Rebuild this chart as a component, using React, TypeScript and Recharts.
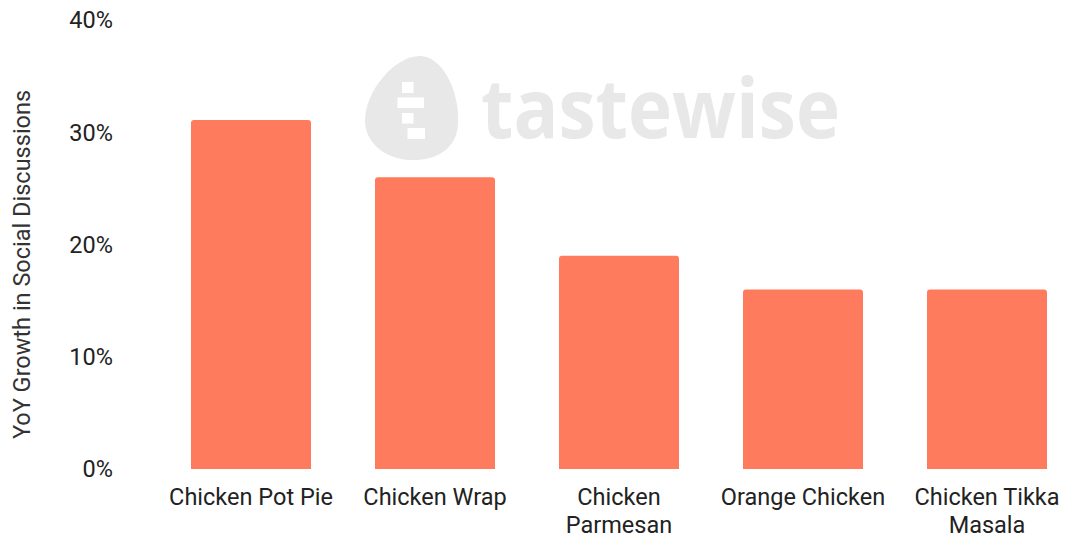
import React from 'react';
import { BarChart, Bar, XAxis, YAxis } from 'recharts';

const categories = ['Chicken Pot Pie', 'Chicken Wrap', 'Chicken Parmesan', 'Orange Chicken', 'Chicken Tikka Masala'];
const growth = [31.1, 26, 19, 16, 16];
const tickLines = [['Chicken Pot Pie'], ['Chicken Wrap'], ['Chicken', 'Parmesan'], ['Orange Chicken'], ['Chicken Tikka', 'Masala']];
const yTicks = [0, 10, 20, 30, 40];

const data = categories.map((name, i) => ({ name, value: growth[i] }));

const FONT = 'Roboto, sans-serif';
const FS = 23.5;

const CategoryTick = (props: any) => {
  const { x, y, index } = props;
  const lines = tickLines[index] || [props.payload.value];
  return (
    <text x={x} y={y} textAnchor="middle" fill="#222" fontSize={FS} fontFamily={FONT}>
      {lines.map((l: string, i: number) => (
        <tspan key={i} x={x} dy={i === 0 ? 29.5 : 28}>
          {l}
        </tspan>
      ))}
    </text>
  );
};

const YLabel = (props: any) => {
  const vb = props.viewBox || {};
  const cy = vb.y + vb.height / 2 + 20;
  return (
    <text
      x={22}
      y={cy}
      transform={`rotate(-90, 22, ${cy})`}
      textAnchor="middle"
      dominantBaseline="central"
      fill="#333"
      fontSize={FS}
      fontFamily={FONT}
    >
      YoY Growth in Social Discussions
    </text>
  );
};

const Watermark = () => (
  <svg width={1066} height={538} style={{ position: 'absolute', left: 0, top: 0 }}>
    <g fill="#e8e8e8">
      <path d="M 421 56 C 445 58 460 95 458 125 C 456 150 435 161 410 160 C 385 159 366 143 365 122 C 364 92 395 55 421 56 Z" />
    </g>
    <g fill="#fff">
      <rect x={402} y={82} width={11.5} height={11} />
      <rect x={397.5} y={97.5} width={26.5} height={10.5} />
      <rect x={402} y={113} width={11.5} height={10.5} />
      <rect x={407.5} y={128} width={17.5} height={11} />
    </g>
    <text
      x={481}
      y={138}
      fill="#e8e8e8"
      fontFamily="'Open Sans', sans-serif"
      fontWeight={700}
      fontSize={82}
      textLength={359}
      lengthAdjust="spacingAndGlyphs"
    >
      tastewise
    </text>
  </svg>
);

export default function App() {
  return (
    <div style={{ position: 'absolute', left: 0, top: 0, width: 1066, height: 538, overflow: 'hidden', background: '#fff' }}>
      <Watermark />
      <div style={{ position: 'absolute', left: 0, top: 0 }}>
        <BarChart width={1080} height={538} data={data} margin={{ top: 20, right: 1, bottom: 0, left: 0 }}>
          <XAxis
            dataKey="name"
            axisLine={false}
            tickLine={false}
            tickSize={0}
            tickMargin={6}
            height={69}
            interval={0}
            tick={<CategoryTick />}
          />
          <YAxis
            domain={[0, 40]}
            ticks={yTicks}
            width={159}
            axisLine={false}
            tickLine={false}
            tickSize={0}
            tickMargin={46}
            tick={{ fill: '#222', fontSize: FS, fontFamily: FONT }}
            tickFormatter={(v) => `${v}%`}
            label={<YLabel />}
          />
          <Bar dataKey="value" fill="#FF7B5E" barSize={120} radius={[3, 3, 0, 0]} isAnimationActive={false} />
        </BarChart>
      </div>
    </div>
  );
}
